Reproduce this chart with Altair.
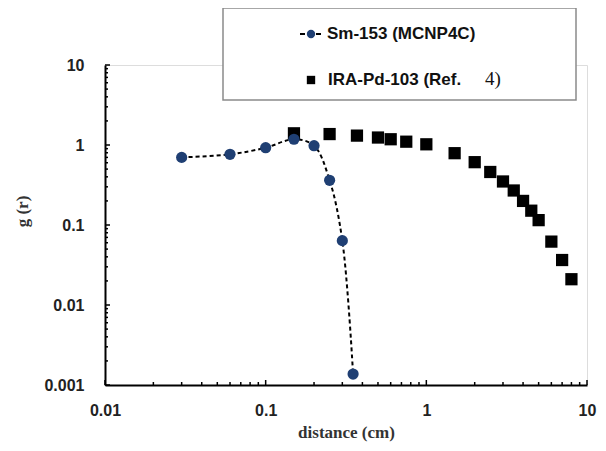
import altair as alt
import pandas as pd

# Sm-153 (MCNP4C)
sm_r = [0.03, 0.06, 0.1, 0.15, 0.2, 0.25, 0.3, 0.35]
sm_g = [0.70, 0.765, 0.925, 1.18, 0.98, 0.362, 0.0637, 0.00137]
# IRA-Pd-103 (Ref. 4)
pd_r = [0.15, 0.25, 0.37, 0.5, 0.6, 0.75, 1.0, 1.5, 2.0, 2.5, 3.0, 3.5, 4.0, 4.5, 5.0, 6.0, 7.0, 8.0]
pd_g = [1.40, 1.37, 1.31, 1.24, 1.18, 1.10, 1.02, 0.79, 0.61, 0.46, 0.35, 0.27, 0.20, 0.151, 0.115, 0.062, 0.0365, 0.021]

x_major = [0.01, 0.1, 1, 10]
y_major = [0.001, 0.01, 0.1, 1, 10]
mults = [2, 3, 4, 5, 6, 7, 8, 9]
x_minor = [d * m for d in [0.01, 0.1, 1] for m in mults]
y_minor = [d * m for d in [0.001, 0.01, 0.1, 1] for m in mults]

W, H = 482, 320

xs = alt.Scale(type="log", domain=[0.01, 10], nice=False)
ys = alt.Scale(type="log", domain=[0.001, 10], nice=False)

xaxis = alt.Axis(values=x_major, format="~g", title="distance (cm)", ticks=False, tickSize=0,
                 labelPadding=17, labelFont="Liberation Sans", labelFontWeight="bold", labelFontSize=16,
                 labelColor="#222", titleFont="Liberation Serif", titleFontWeight="bold", titleFontSize=17,
                 titleColor="#333", titlePadding=6, domainColor="black", domainWidth=2, grid=False,
                 labelFlush=False)
yaxis = alt.Axis(values=y_major, format="~g", title="g (r)", ticks=False, tickSize=0,
                 labelPadding=21, labelFont="Liberation Sans", labelFontWeight="bold", labelFontSize=16,
                 labelColor="#222", titleFont="Liberation Serif", titleFontWeight="bold", titleFontSize=17,
                 titleColor="#333", titlePadding=12, titleY=146, domainColor="black", domainWidth=2,
                 grid=False, labelFlush=False)

def X(f):
    return alt.X(f, type="quantitative", scale=xs, axis=xaxis)

def Y(f):
    return alt.Y(f, type="quantitative", scale=ys, axis=yaxis)

sm = pd.DataFrame({"r": sm_r, "g": sm_g})
ira = pd.DataFrame({"r": pd_r, "g": pd_g})

line = alt.Chart(sm).mark_line(color="black", strokeWidth=2, strokeDash=[4, 3],
                               interpolate="catmull-rom").encode(x=X("r"), y=Y("g"))
circles = alt.Chart(sm).mark_point(shape="circle", filled=True, size=125, opacity=1,
                                   color="#1F3F73").encode(x=X("r"), y=Y("g"))
squares = alt.Chart(ira).mark_point(shape="square", filled=True, size=150, opacity=1,
                                    color="black").encode(x=X("r"), y=Y("g"))

xmaj = alt.Chart(pd.DataFrame({"r": x_major})).mark_rule(color="black", strokeWidth=1.5).encode(
    x=X("r"), y=alt.value(H), y2=alt.value(H - 5))
xmin = alt.Chart(pd.DataFrame({"r": x_minor})).mark_rule(color="black", strokeWidth=1.5).encode(
    x=X("r"), y=alt.value(H), y2=alt.value(H - 3))
ymaj = alt.Chart(pd.DataFrame({"g": y_major})).mark_rule(color="black", strokeWidth=1.5).encode(
    y=Y("g"), x=alt.value(0), x2=alt.value(5))
ymin = alt.Chart(pd.DataFrame({"g": y_minor})).mark_rule(color="black", strokeWidth=1.5).encode(
    y=Y("g"), x=alt.value(0), x2=alt.value(3))

one = pd.DataFrame({"a": [0]})
box = alt.Chart(one).mark_rect(fill="white", stroke="#8a8a8a", strokeWidth=1.5).encode(
    x=alt.value(118), x2=alt.value(471), y=alt.value(-57), y2=alt.value(35))
leg_dash = alt.Chart(one).mark_rule(color="black", strokeWidth=2, strokeDash=[5, 3]).encode(
    x=alt.value(195), x2=alt.value(216), y=alt.value(-31))
leg_circle = alt.Chart(one).mark_point(shape="circle", filled=True, size=70, opacity=1,
                                       color="#1F3F73").encode(x=alt.value(206), y=alt.value(-31))
leg_square = alt.Chart(one).mark_point(shape="square", filled=True, size=70, opacity=1,
                                       color="black").encode(x=alt.value(206), y=alt.value(15))
leg_t1 = alt.Chart(one).mark_text(text="Sm-153 (MCNP4C)", align="left", baseline="middle",
                                  font="Liberation Sans", fontWeight="bold", fontSize=17,
                                  color="#111").encode(x=alt.value(222), y=alt.value(-31))
leg_t2 = alt.Chart(one).mark_text(text="IRA-Pd-103 (Ref.", align="left", baseline="middle",
                                  font="Liberation Sans", fontWeight="bold", fontSize=17,
                                  color="#111").encode(x=alt.value(223), y=alt.value(15))
leg_t3 = alt.Chart(one).mark_text(text="4)", align="left", baseline="middle",
                                  font="Liberation Serif", fontSize=19,
                                  color="#111").encode(x=alt.value(380), y=alt.value(14))

chart = alt.layer(
    xmin, xmaj, ymin, ymaj, line, squares, circles,
    box, leg_dash, leg_circle, leg_square, leg_t1, leg_t2, leg_t3
).properties(
    width=W, height=H,
    padding={"left": 97, "top": 57, "right": 10, "bottom": 62},
    autosize=alt.AutoSizeParams(type="none")
).configure_view(stroke=None).configure(background="white")

chart.save("out.html", embed_options={"renderer": "svg", "actions": False})
